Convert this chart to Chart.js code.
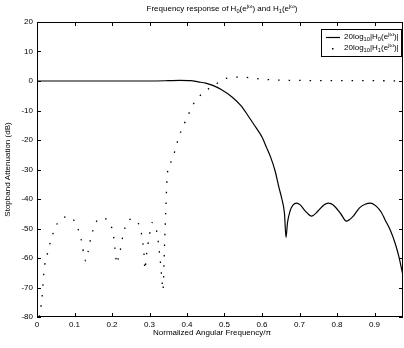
<!DOCTYPE html>
<html>
<head>
<meta charset="utf-8">
<script src="https://cdn.jsdelivr.net/npm/chart.js@4"></script>
<style>
html, body { margin: 0; padding: 0; background: #fff; }
canvas { display: block; }
</style>
</head>
<body>
<canvas id="myChart" width="404" height="348"></canvas>
<script>
// frequency axis (normalized, x pi) and responses in dB
const freqH0 = [0, 0.05, 0.1, 0.15, 0.2, 0.25, 0.3, 0.35, 0.38, 0.41, 0.43, 0.45, 0.467, 0.49, 0.52, 0.545, 0.565, 0.585, 0.6, 0.612, 0.623, 0.635, 0.645, 0.653, 0.66, 0.664, 0.668, 0.675, 0.683, 0.692, 0.702, 0.715, 0.732, 0.75, 0.765, 0.777, 0.79, 0.81, 0.825, 0.842, 0.86, 0.875, 0.889, 0.905, 0.918, 0.928, 0.942, 0.955, 0.965, 0.976];
const magH0 = [0, 0, 0, 0, 0, 0, 0, 0.1, 0.2, 0.1, -0.3, -0.7, -1.4, -2.8, -5.4, -8.5, -12.2, -16, -19, -22.5, -25.8, -30.5, -36, -40, -45, -53, -48, -44, -42, -41.4, -42, -44, -45.8, -44, -42, -41.4, -42, -45, -47.5, -46, -43, -41.8, -41.4, -42.5, -44.5, -47, -50.5, -55, -59.5, -66];

const freqH1 = [0.006, 0.013, 0.016, 0.019, 0.027, 0.037, 0.051, 0.068, 0.085, 0.1, 0.109, 0.12, 0.125, 0.13, 0.136, 0.144, 0.157, 0.172, 0.187, 0.197, 0.203, 0.208, 0.213, 0.217, 0.221, 0.229, 0.24, 0.255, 0.269, 0.276, 0.28, 0.285, 0.288, 0.291, 0.293, 0.299, 0.307, 0.315, 0.322, 0.328, 0.333, 0.336, 0.339, 0.343, 0.348, 0.36, 0.371, 0.384, 0.4, 0.416, 0.443, 0.472, 0.507, 0.547, 0.6, 0.65, 0.7, 0.8, 0.9, 0.976];
const magH1 = [-80, -74, -69, -64, -59, -54, -49, -46.5, -46, -47.5, -50, -55, -59, -61, -58, -53, -48, -46.5, -47, -49, -51.5, -57, -62, -60, -58, -52.5, -48, -46.8, -48, -50, -53, -58, -64, -60, -58, -53, -48, -49, -53, -60, -67, -71, -60, -45, -31, -27, -22, -17, -12.5, -8, -4, -1.5, 1, 1.3, 0.6, 0.3, 0.2, 0.1, 0.1, 0];

const xTicks = [0, 0.1, 0.2, 0.3, 0.4, 0.5, 0.6, 0.7, 0.8, 0.9];
const yTicks = [20, 10, 0, -10, -20, -30, -40, -50, -60, -70, -80];

const FONT = '"Liberation Sans", Arial, sans-serif';

// draw text with sub (1) / superscript (2) pieces
function richWidth(ctx, parts, size) {
  let w = 0;
  parts.forEach(([t, m]) => {
    ctx.font = (m ? size * 0.72 : size) + 'px ' + FONT;
    w += ctx.measureText(t).width;
  });
  return w;
}
function drawRich(ctx, parts, x, y, size) {
  let cx = x;
  parts.forEach(([t, m]) => {
    ctx.font = (m ? size * 0.72 : size) + 'px ' + FONT;
    const dy = m === 1 ? size * 0.32 : m === 2 ? -size * 0.38 : 0;
    ctx.fillText(t, cx, y + dy);
    cx += ctx.measureText(t).width;
  });
}

const titleParts = [['Frequency response of H', 0], ['0', 1], ['(e', 0], ['jω', 2], [') and H', 0], ['1', 1], ['(e', 0], ['jω', 2], [')', 0]];
const leg0 = [['20log', 0], ['10', 1], ['|H', 0], ['0', 1], ['(e', 0], ['jω', 2], [')|', 0]];
const leg1 = [['20log', 0], ['10', 1], ['|H', 0], ['1', 1], ['(e', 0], ['jω', 2], [')|', 0]];

// frame, inward ticks, title, axis labels and legend
const decor = {
  id: 'decor',
  afterDraw(chart) {
    const ctx = chart.ctx;
    const a = chart.chartArea;
    const xs = chart.scales.x, ys = chart.scales.y;
    ctx.save();
    ctx.strokeStyle = '#000';
    ctx.lineWidth = 1;
    ctx.strokeRect(a.left + 0.5, a.top + 0.5, a.right - a.left - 1, a.bottom - a.top - 1);
    ctx.beginPath();
    xTicks.forEach(v => {
      const px = Math.round(xs.getPixelForValue(v)) + 0.5;
      ctx.moveTo(px, a.bottom); ctx.lineTo(px, a.bottom - 4);
      ctx.moveTo(px, a.top); ctx.lineTo(px, a.top + 4);
    });
    yTicks.forEach(v => {
      const py = Math.round(ys.getPixelForValue(v)) + 0.5;
      ctx.moveTo(a.left, py); ctx.lineTo(a.left + 4, py);
      ctx.moveTo(a.right, py); ctx.lineTo(a.right - 4, py);
    });
    ctx.stroke();

    ctx.fillStyle = '#000';
    ctx.textBaseline = 'middle';
    ctx.textAlign = 'left';
    const tw = richWidth(ctx, titleParts, 8);
    drawRich(ctx, titleParts, 222 - tw / 2, 9, 8);

    ctx.font = '8px ' + FONT;
    ctx.textAlign = 'center';
    ctx.fillText('Normalized Angular Frequency/π', 212, 333);
    ctx.save();
    ctx.translate(8, (a.top + a.bottom) / 2);
    ctx.rotate(-Math.PI / 2);
    ctx.fillText('Stopband Attenuation (dB)', 0, 0);
    ctx.restore();

    // legend
    ctx.fillStyle = '#fff';
    ctx.fillRect(321, 29, 80, 27);
    ctx.strokeRect(321.5, 29.5, 80, 27);
    ctx.beginPath();
    ctx.lineWidth = 1.2;
    ctx.moveTo(326, 37.5); ctx.lineTo(340, 37.5);
    ctx.stroke();
    ctx.fillStyle = '#000';
    ctx.fillRect(332, 48, 1.5, 1.5);
    ctx.textAlign = 'left';
    drawRich(ctx, leg0, 344, 37, 8);
    drawRich(ctx, leg1, 344, 48, 8);
    ctx.restore();
  }
};

const ctx = document.getElementById('myChart').getContext('2d');
const myChart = new Chart(ctx, {
  type: 'line',
  data: {
    datasets: [
      {
        label: 'H0',
        data: freqH0.map((f, i) => ({ x: f, y: magH0[i] })),
        borderColor: '#000',
        borderWidth: 1.2,
        pointRadius: 0,
        cubicInterpolationMode: 'monotone'
      },
      {
        label: 'H1',
        data: freqH1.map((f, i) => ({ x: f, y: magH1[i] })),
        borderColor: '#000',
        borderWidth: 1.3,
        borderDash: [1.5, 9],
        pointRadius: 0,
        cubicInterpolationMode: 'monotone'
      }
    ]
  },
  options: {
    responsive: false,
    animation: false,
    devicePixelRatio: 1,
    layout: { padding: { top: 22, right: 1, left: 0, bottom: 0 } },
    plugins: { legend: { display: false }, tooltip: { enabled: false } },
    scales: {
      x: {
        type: 'linear',
        min: 0,
        max: 0.976,
        grid: { display: false, drawTicks: false },
        border: { display: false },
        afterFit: s => { s.height = 31; },
        afterBuildTicks: s => { s.ticks = xTicks.map(v => ({ value: v })); },
        ticks: {
          padding: 3,
          maxRotation: 0,
          autoSkip: false,
          color: '#000',
          font: { family: FONT, size: 8 },
          callback: v => v === 0 ? '0' : v.toFixed(1)
        }
      },
      y: {
        min: -80,
        max: 20,
        grid: { display: false, drawTicks: false },
        border: { display: false },
        afterFit: s => { s.width = 37; },
        afterBuildTicks: s => { s.ticks = yTicks.map(v => ({ value: v })); },
        ticks: {
          padding: 4,
          color: '#000',
          font: { family: FONT, size: 8 }
        }
      }
    }
  },
  plugins: [decor]
});
</script>
</body>
</html>
